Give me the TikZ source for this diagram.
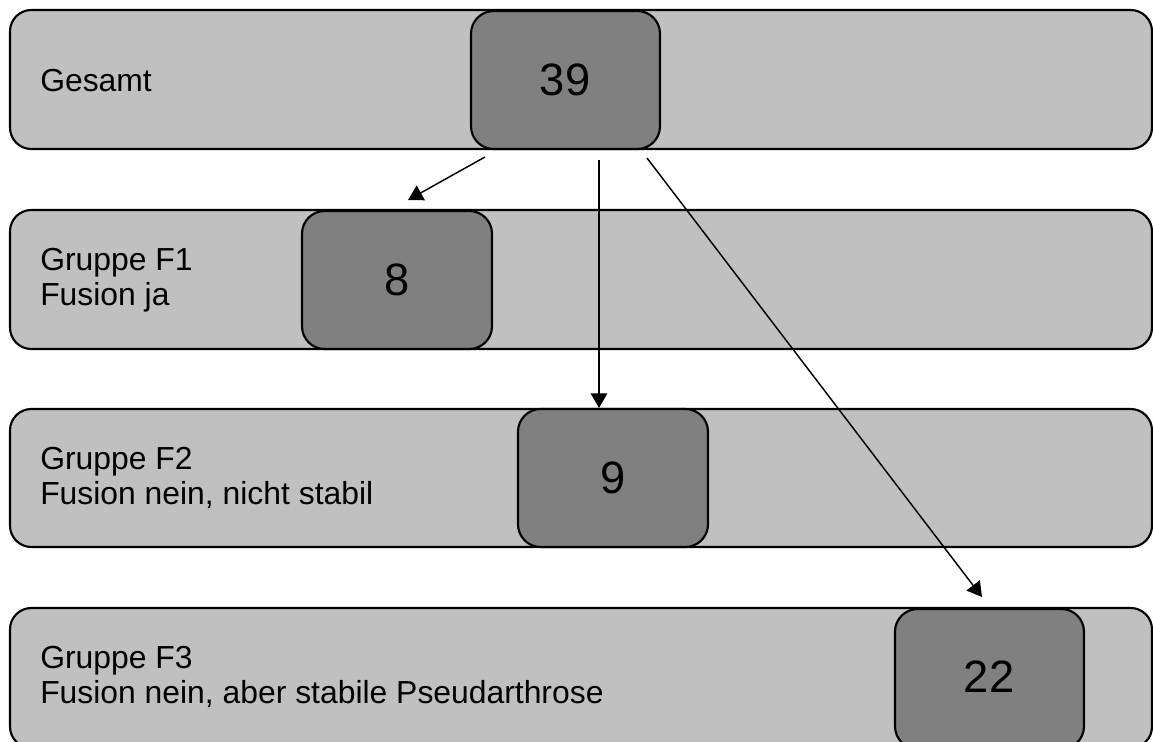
\documentclass[tikz,border=0pt]{standalone}
\usepackage{fontspec}
\setmainfont{Liberation Sans}
\usetikzlibrary{fit,arrows.meta}
\definecolor{barfill}{HTML}{C0C0C0}
\definecolor{boxfill}{HTML}{808080}
\tikzset{
  bar/.style={draw=black, line width=1.6pt, fill=barfill, rounded corners=16pt, inner sep=0pt},
  countbox/.style={draw=black, line width=1.6pt, fill=boxfill, rounded corners=17pt, inner sep=0pt,
    font=\fontsize{34pt}{40pt}\selectfont},
  lbl/.style={anchor=west, align=left, inner sep=0pt, font=\fontsize{23.9pt}{26.5pt}\selectfont},
  flow/.style={line width=1.1pt, -{Triangle[length=11pt,width=12.5pt]}}
}
\begin{document}
\begin{tikzpicture}[x=0.75pt, y=-0.75pt]
  \useasboundingbox (0,0) rectangle (1153,742);
  \clip (0,0) rectangle (1153,742);

  % horizontal bands
  \node[bar, fit={(10,10)(1152,149)}] (b0) {};
  \node[bar, fit={(10,210)(1152,349)}] (b1) {};
  \node[bar, fit={(10,409)(1152,547)}] (b2) {};
  \node[bar, fit={(10,608)(1152,748)}] (b3) {};

  % count boxes
  \node[countbox, fit={(471,11)(660,149)}] (c0) {};
  \node[countbox, fit={(302,211)(492,349)}] (c1) {};
  \node[countbox, fit={(518,409)(708,547)}] (c2) {};
  \node[countbox, fit={(895,609)(1084,749)}] (c3) {};
  \node[countbox, draw=none, fill=none] (n0) at (565,80) {39};
  \node[countbox, draw=none, fill=none] (n1) at (397,280) {8};
  \node[countbox, draw=none, fill=none] (n2) at (613,478) {9};
  \node[countbox, draw=none, fill=none] (n3) at (989,677) {22};

  % band labels
  \node[lbl] (t0) at (40,81) {Gesamt};
  \node[lbl] (t1) at (40,280) {Gruppe F1\\Fusion ja};
  \node[lbl] (t2) at (40,478) {Gruppe F2\\Fusion nein, nicht stabil};
  \node[lbl] (t3) at (40,677) {Gruppe F3\\Fusion nein, aber stabile Pseudarthrose};

  % arrows from the total
  \coordinate (a1s) at (485,157);
  \coordinate (a1e) at (408,200);
  \coordinate (a2s) at (599,160);
  \coordinate (a3s) at (647,158);
  \coordinate (a3e) at (982,597);
  \draw[flow] (a1s) -- (a1e);
  \draw[flow] (a2s) -- (a2s |- c2.north);
  \draw[flow] (a3s) -- (a3e);
\end{tikzpicture}
\end{document}
